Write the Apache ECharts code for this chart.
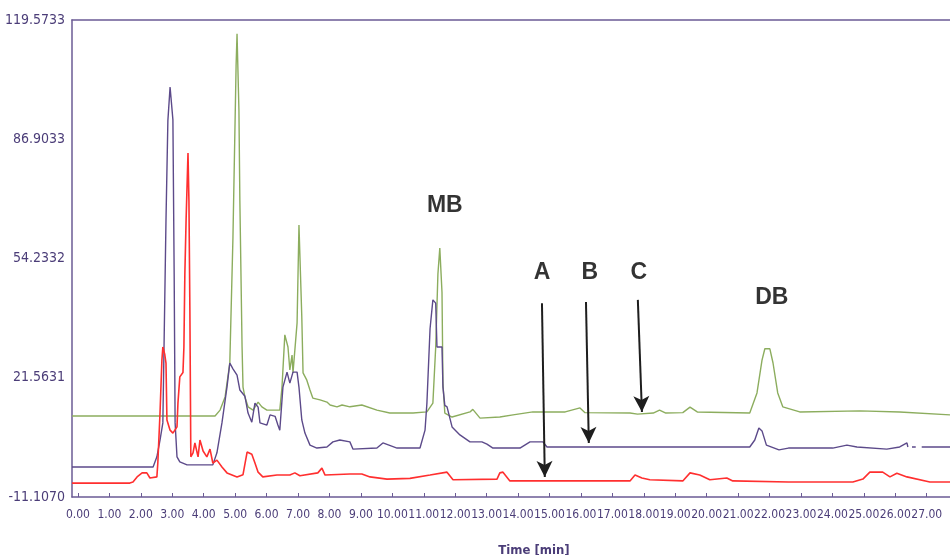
<!DOCTYPE html>
<html>
<head>
<meta charset="utf-8">
<title>Chromatogram overlay</title>
<script src="https://cdn.jsdelivr.net/npm/echarts@6.0.0/dist/echarts.min.js"></script>
<style>
  html, body { margin: 0; padding: 0; background: #fff; }
  #chart { width: 950px; height: 555px; }
</style>
</head>
<body>
<div id="chart"></div>
<script>
// tick values
const xTicks = [0, 1, 2, 3, 4, 5, 6, 7, 8, 9, 10, 11, 12, 13, 14, 15, 16, 17, 18, 19, 20, 21, 22, 23, 24, 25, 26, 27]
const yTicks = [-11.1070, 21.5631, 54.2332, 86.9033, 119.5733]

// top trace (green) [time, signal]
const greenTrace = [
  [-0.19, 11.1], [4.36, 11.1], [4.52, 12.7], [4.68, 16.3], [4.83, 25.6], [4.93, 60], [5.03, 107],
  [5.06, 115.8], [5.12, 95], [5.15, 70], [5.22, 30], [5.25, 19.0], [5.31, 16.3], [5.41, 13.6],
  [5.57, 12.7], [5.73, 14.9], [5.85, 13.6], [6.01, 12.7], [6.42, 12.7], [6.49, 19.0], [6.58, 33.3],
  [6.68, 30.0], [6.74, 23.7], [6.81, 27.8], [6.84, 22.9], [6.97, 36.6], [7.03, 63.4], [7.12, 38.2],
  [7.16, 22.9], [7.28, 20.9], [7.38, 18.2], [7.47, 16.0], [7.70, 15.5], [7.92, 14.9], [8.02, 14.1],
  [8.24, 13.6], [8.40, 14.1], [8.65, 13.6], [9.03, 14.1], [9.51, 12.7], [9.92, 11.9], [10.66, 11.9],
  [11.10, 12.2], [11.29, 14.6], [11.38, 30], [11.45, 50], [11.51, 57.1], [11.58, 45], [11.61, 20],
  [11.67, 11.9], [11.90, 10.8], [12.47, 12.2], [12.56, 12.9], [12.79, 10.5], [13.42, 10.8],
  [13.84, 11.4], [14.47, 12.2], [15.50, 12.2], [15.97, 13.3], [16.13, 12.0], [17.56, 11.9],
  [17.80, 11.6], [18.30, 11.9], [18.50, 12.7], [18.70, 11.9], [19.24, 12.0], [19.47, 13.5],
  [19.70, 12.2], [21.37, 11.9], [21.60, 17.4], [21.76, 26.4], [21.85, 29.5], [22.01, 29.5],
  [22.11, 25.6], [22.26, 17.4], [22.42, 13.6], [22.96, 12.2], [24.87, 12.5], [26.14, 12.2],
  [27.74, 11.4]
]

// middle trace (purple)
const purpleTrace = [
  [-0.19, -2.9], [2.39, -2.9], [2.51, -0.1], [2.61, 4.5], [2.70, 9.2], [2.80, 64.8], [2.86, 92],
  [2.93, 101.2], [2.96, 101.2], [3.02, 92.2], [3.06, 50], [3.09, 9.2], [3.15, -0.1], [3.24, -1.5],
  [3.47, -2.3], [4.29, -2.3], [4.42, 1.0], [4.58, 9.2], [4.74, 19.0], [4.83, 25.6], [4.93, 24.0],
  [5.06, 22.3], [5.15, 18.2], [5.31, 16.5], [5.41, 11.9], [5.53, 9.4], [5.63, 14.6], [5.73, 13.5],
  [5.79, 9.2], [6.01, 8.6], [6.11, 11.4], [6.27, 11.0], [6.36, 8.6], [6.42, 7.2], [6.52, 19.0],
  [6.65, 23.1], [6.74, 20.1], [6.84, 23.1], [6.97, 23.1], [7.03, 19.0], [7.12, 10.0], [7.22, 6.4],
  [7.38, 3.1], [7.60, 2.3], [7.92, 2.6], [8.11, 4.0], [8.33, 4.5], [8.65, 4.0], [8.75, 2.0],
  [9.51, 2.3], [9.70, 3.7], [10.15, 2.3], [10.88, 2.3], [11.04, 7.2], [11.10, 14.6], [11.20, 35],
  [11.29, 42.9], [11.38, 42.0], [11.42, 30.0], [11.58, 30.0], [11.61, 19.0], [11.67, 14.0],
  [11.74, 13.6], [11.90, 8.1], [12.15, 5.9], [12.47, 4.0], [12.85, 4.0], [13.01, 3.4], [13.20, 2.3],
  [14.06, 2.3], [14.38, 4.0], [14.79, 4.0], [14.92, 2.6], [21.37, 2.6], [21.53, 4.5], [21.66, 7.8],
  [21.76, 7.0], [21.90, 3.1], [22.30, 1.8], [22.60, 2.3], [24.01, 2.3], [24.46, 3.1], [24.78, 2.6],
  [25.73, 2.0], [26.14, 2.6], [26.37, 3.7], [26.40, 2.6], [26.45, '-'], [26.53, 2.6], [26.65, 2.6],
  [26.70, '-'], [26.84, 2.6], [27.74, 2.6]
]

// bottom trace (red)
const redTrace = [
  [-0.19, -7.3], [1.65, -7.3], [1.75, -7.0], [1.88, -5.6], [2.04, -4.5], [2.19, -4.5], [2.29, -5.9],
  [2.51, -5.6], [2.54, -1.8], [2.61, 11.9], [2.67, 26.4], [2.70, 30.0], [2.76, 28.0], [2.80, 25.6],
  [2.83, 10.0], [2.93, 7.2], [3.02, 6.4], [3.15, 8.1], [3.18, 14.6], [3.24, 21.8], [3.34, 23.0],
  [3.37, 30], [3.40, 50], [3.44, 65], [3.50, 83.1], [3.53, 70], [3.56, 40], [3.59, -0.1], [3.66, 1.0],
  [3.72, 3.7], [3.82, -0.1], [3.88, 4.5], [3.98, 1.5], [4.10, -0.1], [4.20, 2.0], [4.29, -1.8],
  [4.42, -1.0], [4.58, -2.9], [4.74, -4.5], [5.06, -5.6], [5.25, -5.0], [5.38, 1.2], [5.53, 0.6],
  [5.63, -1.8], [5.73, -4.3], [5.88, -5.6], [6.33, -5.1], [6.74, -5.1], [6.90, -4.5], [7.06, -5.3],
  [7.63, -4.5], [7.76, -3.2], [7.86, -5.1], [8.65, -4.8], [9.03, -4.8], [9.29, -5.6], [9.83, -6.2],
  [10.56, -6.0], [11.20, -5.1], [11.74, -4.3], [11.93, -6.4], [13.33, -6.2], [13.42, -4.5],
  [13.52, -4.3], [13.74, -6.7], [17.56, -6.7], [17.72, -5.1], [17.94, -5.9], [18.19, -6.4],
  [19.24, -6.7], [19.47, -4.5], [19.78, -5.1], [20.10, -6.4], [20.64, -5.9], [20.83, -6.7],
  [22.60, -7.0], [24.65, -7.0], [24.97, -6.2], [25.19, -4.3], [25.60, -4.3], [25.83, -5.6],
  [26.05, -4.6], [26.37, -5.6], [27.10, -7.0], [27.74, -7.0]
]

// peak annotations [time, signal, text]
const peakLabels = [
  [11.67, 68.6, 'MB'], [14.76, 50.3, 'A'], [16.28, 50.3, 'B'], [17.84, 50.3, 'C'], [22.07, 43.4, 'DB']
]
// arrows [fromTime, fromSignal, toTime, toSignal]
const arrows = [
  [14.76, 42.0, 14.85, -5.6],
  [16.16, 42.3, 16.25, 3.7],
  [17.81, 42.9, 17.94, 12.2]
]

const axisColor = '#6b5b95'
const textColor = '#4b3d78'
const narrow = "'Liberation Sans Narrow', 'DejaVu Sans Condensed', sans-serif"

const chart = echarts.init(document.getElementById('chart'))

chart.setOption({
  animation: false,
  grid: { left: 72, right: 0, top: 20, bottom: 58, outerBoundsMode: 'none' },
  xAxis: [
    {
      type: 'value',
      min: -0.19,
      max: 27.74,
      name: 'Time [min]',
      nameLocation: 'middle',
      nameGap: 47,
      nameTextStyle: { color: textColor, fontFamily: narrow, fontSize: 13, fontWeight: 'bold', padding: [0, 0, 0, 46] },
      axisLine: { onZero: false, lineStyle: { color: axisColor, width: 1.5 } },
      axisTick: { inside: true, length: 4, customValues: xTicks, lineStyle: { color: axisColor } },
      axisLabel: {
        customValues: xTicks,
        margin: 12,
        color: textColor,
        fontFamily: narrow,
        fontSize: 12,
        showMinLabel: true,
        showMaxLabel: true,
        hideOverlap: false,
        formatter: v => v.toFixed(2)
      },
      splitLine: { show: false }
    },
    {
      type: 'value',
      position: 'top',
      min: -0.19,
      max: 27.74,
      axisLine: { show: true, onZero: false, lineStyle: { color: axisColor, width: 1.5 } },
      axisTick: { show: false },
      axisLabel: { show: false },
      splitLine: { show: false }
    }
  ],
  yAxis: {
    type: 'value',
    min: -11.107,
    max: 119.5733,
    axisLine: { show: true, onZero: false, lineStyle: { color: axisColor, width: 1.5 } },
    axisTick: { show: false },
    axisLabel: {
      customValues: yTicks,
      margin: 7,
      color: textColor,
      fontFamily: narrow,
      fontSize: 14,
      formatter: v => v.toFixed(4)
    },
    splitLine: { show: false }
  },
  series: [
    {
      name: 'green',
      type: 'line',
      data: greenTrace,
      showSymbol: false,
      lineStyle: { color: '#8cad5e', width: 1.4 },
      z: 2
    },
    {
      name: 'purple',
      type: 'line',
      data: purpleTrace,
      showSymbol: false,
      connectNulls: false,
      lineStyle: { color: '#5c4a8a', width: 1.4 },
      z: 3
    },
    {
      name: 'red',
      type: 'line',
      data: redTrace,
      showSymbol: false,
      lineStyle: { color: '#ff2f2f', width: 1.6 },
      z: 4,
      markLine: {
        silent: true,
        symbol: ['none', 'arrow'],
        symbolSize: [12, 16],
        label: { show: false },
        lineStyle: { color: '#1e1e1e', width: 2, type: 'solid' },
        data: arrows.map(a => [{ coord: [a[0], a[1]] }, { coord: [a[2], a[3]] }])
      }
    },
    {
      name: 'labels',
      type: 'scatter',
      data: peakLabels,
      symbolSize: 0,
      silent: true,
      z: 5,
      label: {
        show: true,
        position: 'inside',
        formatter: p => p.value[2],
        color: '#000',
        fontFamily: "'Liberation Sans', Arial, sans-serif",
        fontWeight: 'bold',
        fontSize: 23
      }
    }
  ]
})

window.addEventListener('resize', () => chart.resize())
</script>
</body>
</html>
